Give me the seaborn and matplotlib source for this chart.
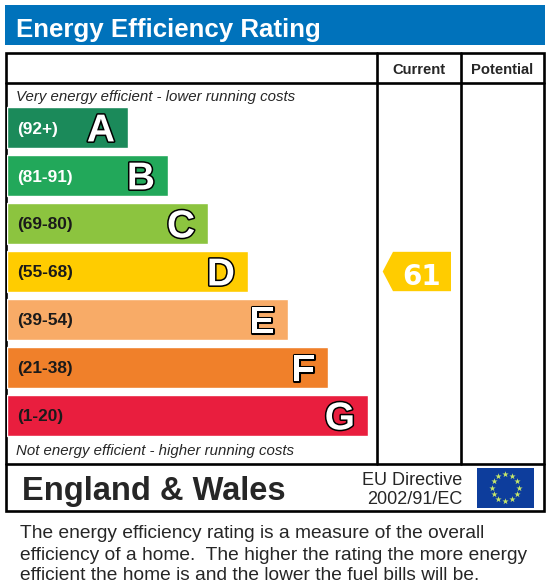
import numpy as np
import pandas as pd
import seaborn as sns
import matplotlib.pyplot as plt
import matplotlib.patheffects as pe
from matplotlib.patches import Rectangle, Polygon

# band data
bands = ["A", "B", "C", "D", "E", "F", "G"]
ranges = ["(92+)", "(81-91)", "(69-80)", "(55-68)", "(39-54)", "(21-38)", "(1-20)"]
range_low = [92, 81, 69, 55, 39, 21, 1]
band_lengths = [121, 161, 201, 241, 281, 321, 361]
band_colors = ["#1b8a5a", "#22a85a", "#8cc43f", "#ffcc00", "#f8ab67", "#f0802a", "#e91e3e"]
range_text_colors = ["white", "white", "#1a1a1a", "#1a1a1a", "#1a1a1a", "#1a1a1a", "#1a1a1a"]

current_rating = 61
potential_rating = None

title = "Energy Efficiency Rating"
col_labels = ["Current", "Potential"]
top_note = "Very energy efficient - lower running costs"
bottom_note = "Not energy efficient - higher running costs"
region = "England & Wales"
directive = ["EU Directive", "2002/91/EC"]
paragraph = [
    "The energy efficiency rating is a measure of the overall",
    "efficiency of a home.  The higher the rating the more energy",
    "efficient the home is and the lower the fuel bills will be.",
]

sns.set_style("white")
plt.rcParams['font.family'] = ['Liberation Sans', 'DejaVu Sans']

W, H = 552, 584
fig = plt.figure(figsize=(W / 100, H / 100), dpi=100)

# overlay axes in pixel units
ax = fig.add_axes([0, 0, 1, 1])
ax.set_xlim(0, W)
ax.set_ylim(H, 0)
ax.axis("off")

# title bar
ax.add_patch(Rectangle((5, 5), 540, 40, color="#0072bb", lw=0))
ax.text(15.5, 37, title, color="white", fontsize=18.6, fontweight="bold", va="baseline")

# table frame
lw = 1.9
ax.add_patch(Rectangle((6, 52.5), 538, 458, fill=False, ec="black", lw=lw))
ax.plot([6, 544], [83, 83], color="black", lw=lw)
ax.plot([6, 544], [463.5, 463.5], color="black", lw=lw)
ax.plot([377, 377], [52.5, 463.5], color="black", lw=lw)
ax.plot([460.5, 460.5], [52.5, 463.5], color="black", lw=lw)

ax.text(418.5, 74, col_labels[0], fontsize=10.6, fontweight="bold", ha="center", va="baseline")
ax.text(502.5, 74, col_labels[1], fontsize=10.6, fontweight="bold", ha="center", va="baseline")

ax.text(16, 100.5, top_note, fontsize=10.8, style="italic", va="baseline")
ax.text(16, 455, bottom_note, fontsize=10.8, style="italic", va="baseline")

ax.text(22, 500, region, fontsize=23.5, fontweight="bold", va="baseline")
ax.text(462.5, 485, directive[0], fontsize=13, ha="right", va="baseline")
ax.text(462.5, 503.5, directive[1], fontsize=13, ha="right", va="baseline")

# EU flag
ax.add_patch(Rectangle((477, 467.5), 56.5, 40, color="#0d3d9c", lw=0))
ang = np.linspace(0, 2 * np.pi, 13)[:-1]
ax.scatter(505.2 + 13.5 * np.cos(ang), 487.5 + 13.5 * np.sin(ang), marker="*",
           s=22, color="#c8e86a", lw=0, zorder=5)

for k, line in enumerate(paragraph):
    ax.text(20, 538.5 + 21 * k, line, fontsize=13.8, va="baseline")

# rating bands
df = pd.DataFrame({"band": bands, "length": band_lengths})
bx = fig.add_axes([7 / W, (H - 439.5) / H, 545 / W, 336 / H])
sns.barplot(data=df, x="length", y="band", hue="band", palette=band_colors,
            orient="h", width=0.85, saturation=1, legend=False, ax=bx)
bx.set_xlim(0, 545)
bx.set_ylim(6.5, -0.5)
bx.axis("off")
bx.patch.set_alpha(0)

for i, (b, r, L) in enumerate(zip(bands, ranges, band_lengths)):
    bx.text(10, i + 0.125, r, color=range_text_colors[i], fontsize=12.4,
            fontweight="bold", va="baseline")
    bx.text(L - 13, i + 0.29, b, color="white", fontsize=28, fontweight="bold",
            ha="right", va="baseline",
            path_effects=[pe.withStroke(linewidth=2.2, foreground="black")])

# current rating arrow
idx = next(i for i, lo in enumerate(range_low) if current_rating >= lo)
h = 0.41
arrow = Polygon([(444, idx - h), (386, idx - h), (375.7, idx), (386, idx + h), (444, idx + h)],
                closed=True, color=band_colors[idx], lw=0)
bx.add_patch(arrow)
bx.text(414.5, idx + 0.285, str(current_rating), color="white", fontsize=20,
        fontweight="bold", ha="center", va="baseline", family=["DejaVu Sans"])

fig.savefig("out.png", dpi=100)
